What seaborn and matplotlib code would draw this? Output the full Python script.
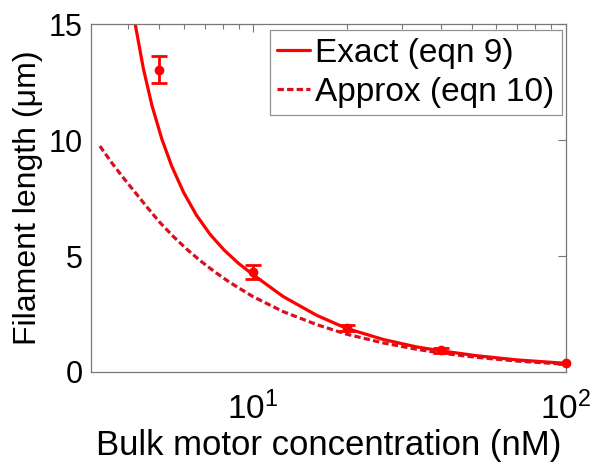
import numpy as np
import pandas as pd
import seaborn as sns
import matplotlib.pyplot as plt
from matplotlib.ticker import LogLocator, NullFormatter

# values
exact_conc = [4.10, 4.18, 4.46, 4.75, 5.11, 5.50, 6.00, 6.60, 7.30, 8.10,
              9.00, 10.0, 12.5, 16.0, 19.9, 26.1, 33.3, 39.5, 51.8, 69.6,
              100.0]
exact_len = [15.9, 15.19, 13.11, 11.52, 10.06, 8.88, 7.75, 6.76, 5.93, 5.25,
             4.68, 4.20, 3.25, 2.44, 1.88, 1.40, 1.08, 0.92, 0.70, 0.52,
             0.37]

approx_conc = [3.24, 3.54, 3.85, 4.20, 4.58, 5.04, 5.56, 6.14, 6.77, 7.56,
               8.44, 10.0, 12.5, 16.0, 19.9, 26.1, 33.3, 39.5, 51.8, 69.6,
               100.0]
approx_len = [9.75, 9.02, 8.38, 7.75, 7.12, 6.45, 5.85, 5.30, 4.81, 4.31,
              3.86, 3.25, 2.60, 2.04, 1.63, 1.25, 0.98, 0.82, 0.63, 0.47,
              0.33]

meas_conc = [5, 10, 20, 40, 100]
meas_len = [13.05, 4.33, 1.90, 0.93, 0.37]
meas_err = [0.60, 0.30, 0.12, 0.10, 0.03]

sns.set_theme(style="white")
plt.rcParams["font.family"] = ["Liberation Sans", "DejaVu Sans"]
plt.rcParams["mathtext.fontset"] = "custom"
plt.rcParams["mathtext.rm"] = "Liberation Sans"
plt.rcParams["text.color"] = "black"
plt.rcParams["axes.labelcolor"] = "black"

fig = plt.figure(figsize=(6.0, 4.69), dpi=100)
ax = fig.add_axes([0.152, 0.207, 0.791, 0.741])

exact = pd.DataFrame({"conc": exact_conc, "length": exact_len})
approx = pd.DataFrame({"conc": approx_conc, "length": approx_len})

sns.lineplot(data=exact, x="conc", y="length", ax=ax, color="#ff0000",
             linewidth=2.3, label="Exact (eqn 9)", sort=False)
sns.lineplot(data=approx, x="conc", y="length", ax=ax, color="#d8101e",
             linewidth=2.3, linestyle=(0, (2.0, 1.0)), label="Approx (eqn 10)",
             sort=False)

eb = ax.errorbar(meas_conc, meas_len, yerr=meas_err, fmt="o", color="#ff0000",
                 markersize=6, capsize=6, capthick=2, elinewidth=2, zorder=5)
eb.lines[0].set_clip_on(False)

ax.set_xscale("log")
ax.set_xlim(3.04, 100)
ax.set_ylim(0, 15)
ax.set_yticks([0, 5, 10, 15])
ax.xaxis.set_major_locator(LogLocator(base=10))
ax.xaxis.set_minor_locator(LogLocator(base=10, subs=np.arange(2, 10)))
ax.xaxis.set_minor_formatter(NullFormatter())

ax.tick_params(axis="both", which="both", direction="in", top=True, right=True,
               colors="#777777", labelcolor="black")
ax.tick_params(axis="both", which="major", length=6, width=0.8)
ax.tick_params(axis="x", which="minor", length=3.5, width=0.8)
ax.tick_params(axis="x", which="major", pad=14, labelsize=24)
ax.tick_params(axis="y", which="major", pad=6, labelsize=22)
for sp in ax.spines.values():
    sp.set_color("#777777")
    sp.set_linewidth(0.9)

ax.set_xlabel("Bulk motor concentration (nM)", fontsize=25, labelpad=2)
ax.set_ylabel("Filament length (μm)", fontsize=23, labelpad=4)

leg = ax.legend(loc="upper right", bbox_to_anchor=(0.9916, 0.983),
                bbox_transform=ax.transAxes, fontsize=24, frameon=True,
                fancybox=False, handlelength=1.0, handletextpad=0.15,
                borderpad=0.22, labelspacing=0.25, borderaxespad=0)
leg.get_frame().set_edgecolor("#777777")
leg.get_frame().set_linewidth(0.9)

plt.savefig("out.png", dpi=100)
plt.close()
